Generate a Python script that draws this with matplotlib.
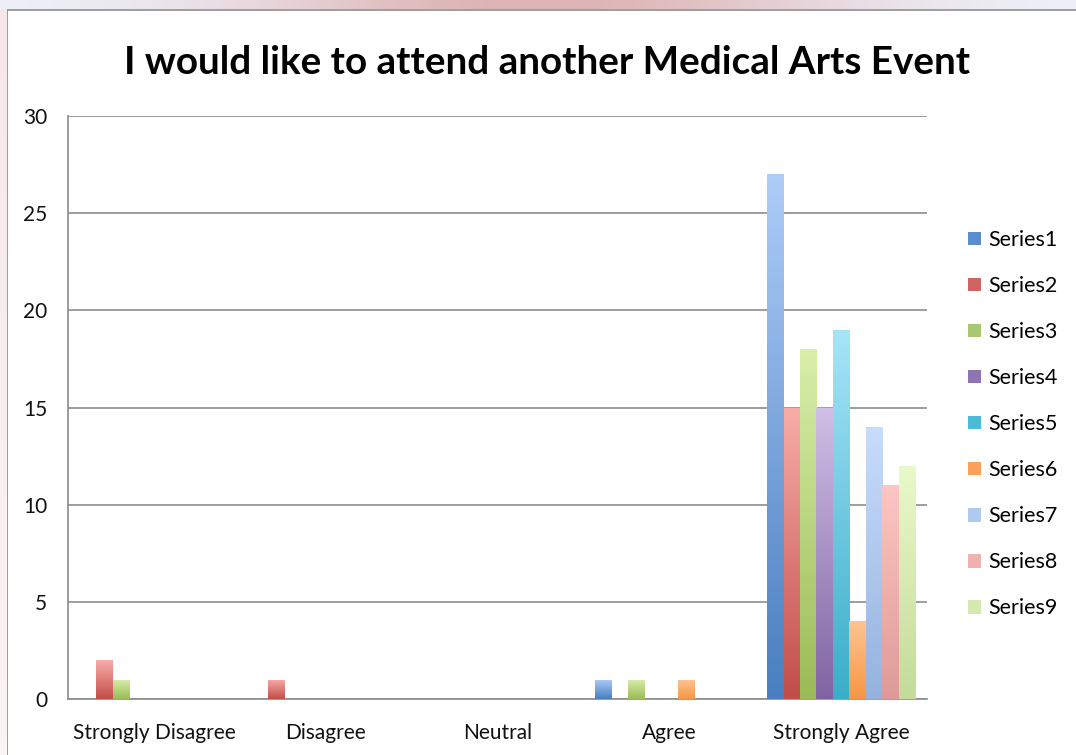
import numpy as np
import matplotlib
matplotlib.use("Agg")
import matplotlib.pyplot as plt
from matplotlib.colors import LinearSegmentedColormap, to_rgb
from matplotlib.patches import Rectangle, Patch

plt.rcParams['font.family'] = ['Lato', 'DejaVu Sans']

categories = ["Strongly Disagree", "Disagree", "Neutral", "Agree", "Strongly Agree"]
series_names = ["Series1", "Series2", "Series3", "Series4", "Series5",
                "Series6", "Series7", "Series8", "Series9"]
series1 = [0, 0, 0, 1, 27]
series2 = [2, 1, 0, 0, 15]
series3 = [1, 0, 0, 1, 18]
series4 = [0, 0, 0, 0, 15]
series5 = [0, 0, 0, 0, 19]
series6 = [0, 0, 0, 1, 4]
series7 = [0, 0, 0, 0, 14]
series8 = [0, 0, 0, 0, 11]
series9 = [0, 0, 0, 0, 12]
all_series = [series1, series2, series3, series4, series5,
              series6, series7, series8, series9]
y_ticks = [0, 5, 10, 15, 20, 25, 30]
title = "I would like to attend another Medical Arts Event"

bottom_colors = ["#4A7EBF", "#C24D49", "#9BBB59", "#8064A2", "#3AAEC8",
                 "#F79646", "#95B3DE", "#DE9A98", "#C4DB9A"]
top_colors = ["#AECCF8", "#F8ACA8", "#D8EEAA", "#D0BFE6", "#A8E4F8",
              "#FDC493", "#C8DCFC", "#FCC6C4", "#E9F9C9"]
mid_colors = ["#5B8CCB", "#D06462", "#A9C76E", "#8E74B2", "#4DBBD5",
              "#F9A05A", "#B0C9EE", "#F0B2B0", "#D4E9B0"]

W, H = 1076, 755
fig = plt.figure(figsize=(W / 100, H / 100), dpi=100)
fig.patch.set_facecolor("white")

# decorative top strip and left strip
strip = fig.add_axes([0, 1 - 9 / H, 1, 9 / H])
grad = np.linspace(0, 1, 256)
prof = np.exp(-((grad - 0.5) / 0.28) ** 2)
c_edge = np.array(to_rgb("#EEF2FA"))
c_mid = np.array(to_rgb("#DDB3B3"))
img = (c_edge[None, :] * (1 - prof[:, None]) + c_mid[None, :] * prof[:, None])[None, :, :]
strip.imshow(img, aspect="auto", extent=[0, 1, 0, 1])
strip.axis("off")
lstrip = fig.add_axes([0, 0, 7 / W, 1 - 9 / H])
lp = np.linspace(0, 1, 64)
c1 = np.array(to_rgb("#F6E8E8"))
c2 = np.array(to_rgb("#FBF4F4"))
limg = (c1[None, :] * (1 - lp[:, None]) + c2[None, :] * lp[:, None])[:, None, :]
lstrip.imshow(limg, aspect="auto", extent=[0, 1, 0, 1])
lstrip.axis("off")
fig.add_artist(Rectangle((7 / W, -0.1), 1.2, 1 - 10 / H + 0.1, transform=fig.transFigure,
                         facecolor="white", edgecolor="#8C8C8C", linewidth=1.2, zorder=0))

ax = fig.add_axes([68 / W, (H - 699) / H, (927 - 68) / W, (699 - 116) / H])
ax.set_facecolor("none")

n = len(all_series)
x = np.arange(len(categories))
bw = 0.86 / n
for i, vals in enumerate(all_series):
    offs = x - 0.43 + bw * (i + 0.5)
    bars = ax.bar(offs, vals, width=bw, color="none", edgecolor="none", zorder=3)
    cmap = LinearSegmentedColormap.from_list(f"g{i}", [bottom_colors[i], top_colors[i]])
    for b in bars:
        h = b.get_height()
        if h <= 0:
            continue
        x0 = b.get_x()
        g = np.linspace(0, 1, 128)[:, None]
        im = ax.imshow(g, cmap=cmap, aspect="auto", origin="lower",
                       extent=[x0, x0 + b.get_width(), 0, h], zorder=3)
        im.set_clip_path(b)

ax.set_xlim(-0.5, len(categories) - 0.5)
ax.set_ylim(0, 30)
ax.set_yticks(y_ticks)
ax.set_yticklabels([str(t) for t in y_ticks])
ax.set_xticks(x)
ax.set_xticklabels(categories)
ax.tick_params(axis="both", length=0, labelsize=15, colors="#111111")
ax.tick_params(axis="y", pad=15)
ax.tick_params(axis="x", pad=17)
ax.yaxis.grid(True, color="#8C8C8C", linewidth=1.2, zorder=1)
ax.set_axisbelow(True)
for s in ["top", "right"]:
    ax.spines[s].set_visible(False)
ax.spines["left"].set_color("#8C8C8C")
ax.spines["left"].set_linewidth(1.2)
ax.spines["bottom"].set_color("#8C8C8C")
ax.spines["bottom"].set_linewidth(1.2)

fig.text(547 / W, 1 - 62 / H, title, ha="center", va="center",
         fontsize=27.8, fontweight="bold", color="black")

handles = [Patch(facecolor=mid_colors[i], edgecolor="none") for i in range(n)]
leg = fig.legend(handles, series_names, loc="upper left",
                 bbox_to_anchor=(968 / W, 1 - 230 / H), frameon=False,
                 fontsize=15.5, handlelength=0.6, handleheight=0.6,
                 handletextpad=0.35, labelspacing=1.21, borderpad=0, borderaxespad=0)

fig.savefig("out.png", dpi=100)
